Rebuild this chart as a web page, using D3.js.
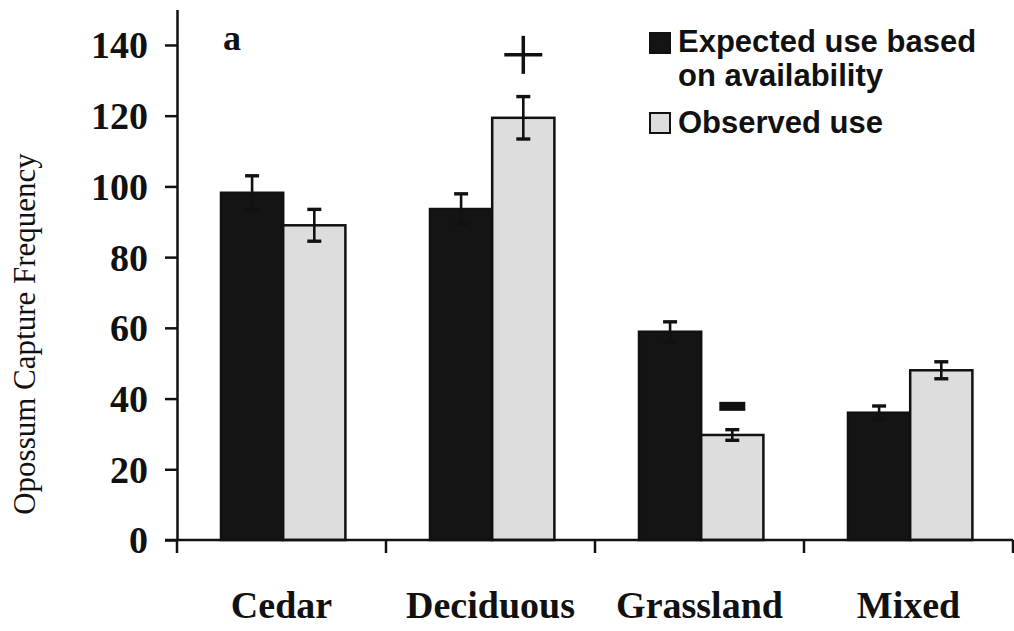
<!DOCTYPE html>
<html>
<head>
<meta charset="utf-8">
<script src="https://cdn.jsdelivr.net/npm/d3@7"></script>
<style>
  html, body { margin: 0; padding: 0; background: #fff; }
  svg { display: block; }
</style>
</head>
<body>
<svg id="chart" width="1014" height="631"></svg>
<script>
// ---- data ----
const categories = ["Cedar", "Deciduous", "Grassland", "Mixed"];
const seriesNames = ["Expected use based on availability", "Observed use"];
const expectedValues = [98.2, 93.6, 58.9, 36.0];
const expectedErrors = [4.8, 4.3, 2.8, 1.9];
const observedValues = [89.0, 119.4, 29.7, 48.0];
const observedErrors = [4.5, 6.0, 1.5, 2.4];
const yTicks = [0, 20, 40, 60, 80, 100, 120, 140];
const legendLines = [["Expected use based", "on availability"], ["Observed use"]];
const panelLabel = "a";
const yTitle = "Opossum Capture Frequency";
// significance markers: category, series index, symbol, value position
const markers = [
  { category: "Deciduous", series: 1, symbol: "+", value: 137.2 },
  { category: "Grassland", series: 1, symbol: "-", value: 37.8 }
];

// ---- layout ----
const svg = d3.select("#chart");
const x0 = 177, x1end = 1013, yBase = 540, yTop = 9.6;

const x = d3.scaleBand().domain(categories).range([x0, x1end]).padding(0);
const xs = d3.scaleBand().domain([0, 1]).range([0, x.bandwidth()])
  .paddingInner(0).paddingOuter(0.68).align(0.52);
const y = d3.scaleLinear().domain([0, 150]).range([yBase, yTop]);

const fills = ["#141414", "#dddddd"];

const rows = [];
categories.forEach((c, i) => {
  rows.push({ c, s: 0, v: expectedValues[i], e: expectedErrors[i] });
  rows.push({ c, s: 1, v: observedValues[i], e: observedErrors[i] });
});

// bars
svg.append("g").selectAll("rect").data(rows).join("rect")
  .attr("x", d => x(d.c) + xs(d.s))
  .attr("y", d => y(d.v))
  .attr("width", xs.bandwidth())
  .attr("height", d => y(0) - y(d.v))
  .attr("fill", d => fills[d.s])
  .attr("stroke", "#111")
  .attr("stroke-width", 2.5);

// error bars
const eg = svg.append("g").attr("stroke", "#111").attr("stroke-width", 2.6);
rows.forEach(d => {
  const cx = x(d.c) + xs(d.s) + xs.bandwidth() / 2;
  eg.append("line").attr("x1", cx).attr("x2", cx).attr("y1", y(d.v + d.e)).attr("y2", y(d.v - d.e));
  eg.append("line").attr("x1", cx - 7).attr("x2", cx + 7).attr("y1", y(d.v + d.e)).attr("y2", y(d.v + d.e)).attr("stroke-width", 3.4);
  eg.append("line").attr("x1", cx - 7).attr("x2", cx + 7).attr("y1", y(d.v - d.e)).attr("y2", y(d.v - d.e)).attr("stroke-width", 3.4);
});

// y axis
const yAxis = d3.axisLeft(y).tickValues(yTicks).tickSize(12).tickSizeOuter(0).tickPadding(17);
const ga = svg.append("g").attr("transform", `translate(${x0},0)`).call(yAxis);
ga.select(".domain").attr("stroke", "#111").attr("stroke-width", 2.5);
ga.selectAll(".tick line").attr("stroke", "#111").attr("stroke-width", 2.5);
ga.selectAll(".tick text")
  .attr("font-family", "'Liberation Serif', 'Times New Roman', serif")
  .attr("font-weight", "bold").attr("font-size", 38).attr("fill", "#111")
  .attr("dy", "0.34em");

// x axis line and boundary ticks
svg.append("line").attr("x1", x0 - 12).attr("x2", x1end).attr("y1", y(0)).attr("y2", y(0))
  .attr("stroke", "#111").attr("stroke-width", 2.5);
const bounds = categories.map(c => x(c)).concat([x1end]);
svg.append("g").selectAll("line").data(bounds).join("line")
  .attr("x1", d => d).attr("x2", d => d).attr("y1", y(0)).attr("y2", y(0) + 13)
  .attr("stroke", "#111").attr("stroke-width", 2.5);

// category labels
svg.append("g").selectAll("text").data(categories).join("text")
  .attr("x", d => x(d) + x.bandwidth() / 2)
  .attr("y", 618)
  .attr("text-anchor", "middle")
  .attr("font-family", "'Liberation Serif', 'Times New Roman', serif")
  .attr("font-weight", "bold").attr("font-size", 38).attr("fill", "#111")
  .text(d => d);

// y title
svg.append("text")
  .attr("transform", `translate(35,334) rotate(-90)`)
  .attr("text-anchor", "middle")
  .attr("font-family", "'Liberation Serif', 'Times New Roman', serif")
  .attr("font-size", 31).attr("fill", "#111")
  .text(yTitle);

// panel label
svg.append("text").attr("x", 223).attr("y", 50)
  .attr("font-family", "'Liberation Serif', 'Times New Roman', serif")
  .attr("font-weight", "bold").attr("font-size", 36).attr("fill", "#111")
  .text(panelLabel);

// markers
markers.forEach(m => {
  const cx = x(m.category) + xs(m.series) + xs.bandwidth() / 2;
  const cy = y(m.value);
  if (m.symbol === "+") {
    svg.append("line").attr("x1", cx - 19).attr("x2", cx + 19).attr("y1", cy).attr("y2", cy)
      .attr("stroke", "#111").attr("stroke-width", 3.5);
    svg.append("line").attr("x1", cx).attr("x2", cx).attr("y1", cy - 19).attr("y2", cy + 19)
      .attr("stroke", "#111").attr("stroke-width", 3.5);
  } else {
    svg.append("rect").attr("x", cx - 13).attr("y", cy - 4.5).attr("width", 26).attr("height", 9)
      .attr("fill", "#111");
  }
});

// legend
const legendY = [33, 113];
const lineBase = [[52, 86], [133]];
seriesNames.forEach((s, i) => {
  svg.append("rect").attr("x", 650).attr("y", legendY[i]).attr("width", 20).attr("height", 20)
    .attr("fill", fills[i]).attr("stroke", "#111").attr("stroke-width", 2);
  legendLines[i].forEach((t, j) => {
    svg.append("text").attr("x", 678).attr("y", lineBase[i][j])
      .attr("font-family", "'Liberation Sans', Arial, sans-serif")
      .attr("font-weight", "bold").attr("font-size", 31).attr("fill", "#111")
      .text(t);
  });
});
</script>
</body>
</html>
